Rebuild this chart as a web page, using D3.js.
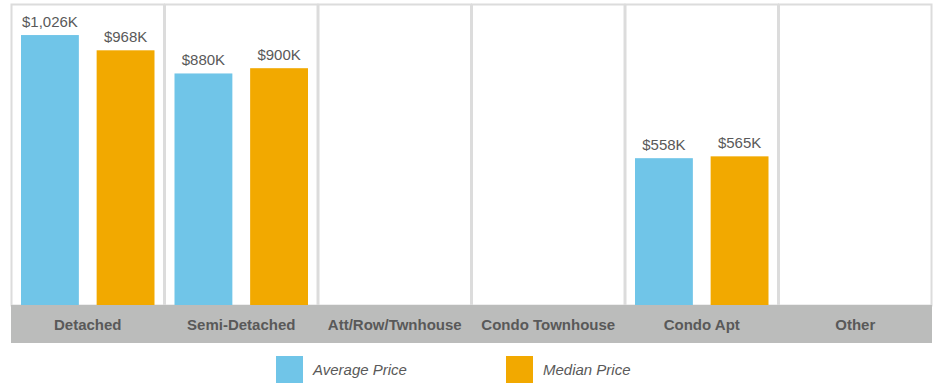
<!DOCTYPE html>
<html>
<head>
<meta charset="utf-8">
<script src="https://cdn.jsdelivr.net/npm/d3@7"></script>
<style>
  html, body { margin: 0; padding: 0; background: #fff; }
  svg { display: block; font-family: "Liberation Sans", Arial, sans-serif; }
</style>
</head>
<body>
<svg id="chart" width="934" height="383"></svg>
<script>
// Home types and price values (thousands of dollars); null = no sales
const categories = ["Detached", "Semi-Detached", "Att/Row/Twnhouse", "Condo Townhouse", "Condo Apt", "Other"];
const averagePrice = [1026, 880, null, null, 558, null];
const medianPrice = [968, 900, null, null, 565, null];
const seriesNames = ["Average Price", "Median Price"];
const seriesColors = ["#70c5e8", "#f2a900"];

const svg = d3.select("#chart");
const plotLeft = 11, plotRight = 932, plotTop = 4, baseY = 305, bandBottom = 343;

const x = d3.scaleBand().domain(categories).range([plotLeft, plotRight]).paddingInner(0).paddingOuter(0);
const inner = d3.scaleBand().domain(seriesNames).range([10, x.bandwidth() - 10]).paddingInner(0.235);
const y = d3.scaleLinear().domain([0, 1144]).range([baseY, plotTop]);

const fmt = v => "$" + d3.format(",")(v) + "K";

// panel frames
svg.append("g").selectAll("rect").data(categories).join("rect")
  .attr("x", d => x(d) + 0.5).attr("y", plotTop + 0.5)
  .attr("width", x.bandwidth() - 1).attr("height", baseY - plotTop)
  .attr("fill", "none").attr("stroke", "#dcdcdc").attr("stroke-width", 2);

// category band
svg.append("rect").attr("x", plotLeft).attr("y", baseY).attr("width", plotRight - plotLeft).attr("height", bandBottom - baseY)
  .attr("fill", "#bbbcbb");
svg.append("g").selectAll("text").data(categories).join("text")
  .attr("x", d => x(d) + x.bandwidth() / 2).attr("y", (baseY + bandBottom) / 2 + 6)
  .attr("text-anchor", "middle").attr("font-size", 15).attr("font-weight", "bold")
  .attr("fill", "#595959").text(d => d);

// bars
const rows = [];
categories.forEach((c, i) => {
  [averagePrice, medianPrice].forEach((arr, s) => {
    if (arr[i] != null) rows.push({ cat: c, series: seriesNames[s], value: arr[i], color: seriesColors[s] });
  });
});

const g = svg.append("g");
g.selectAll("rect").data(rows).join("rect")
  .attr("x", d => x(d.cat) + inner(d.series)).attr("width", inner.bandwidth())
  .attr("y", d => y(d.value)).attr("height", d => baseY - y(d.value))
  .attr("fill", d => d.color);
g.selectAll("text").data(rows).join("text")
  .attr("x", d => x(d.cat) + inner(d.series) + inner.bandwidth() / 2)
  .attr("y", d => y(d.value) - 8)
  .attr("text-anchor", "middle").attr("font-size", 15).attr("fill", "#595959")
  .text(d => fmt(d.value));

// legend
const legendX = [276, 506];
const lg = svg.append("g").selectAll("g").data(seriesNames).join("g")
  .attr("transform", (d, i) => `translate(${legendX[i]},356)`);
lg.append("rect").attr("width", 27).attr("height", 27).attr("fill", (d, i) => seriesColors[i]);
lg.append("text").attr("x", 37).attr("y", 19).attr("font-size", 15).attr("font-style", "italic")
  .attr("fill", "#595959").text(d => d);
</script>
</body>
</html>
